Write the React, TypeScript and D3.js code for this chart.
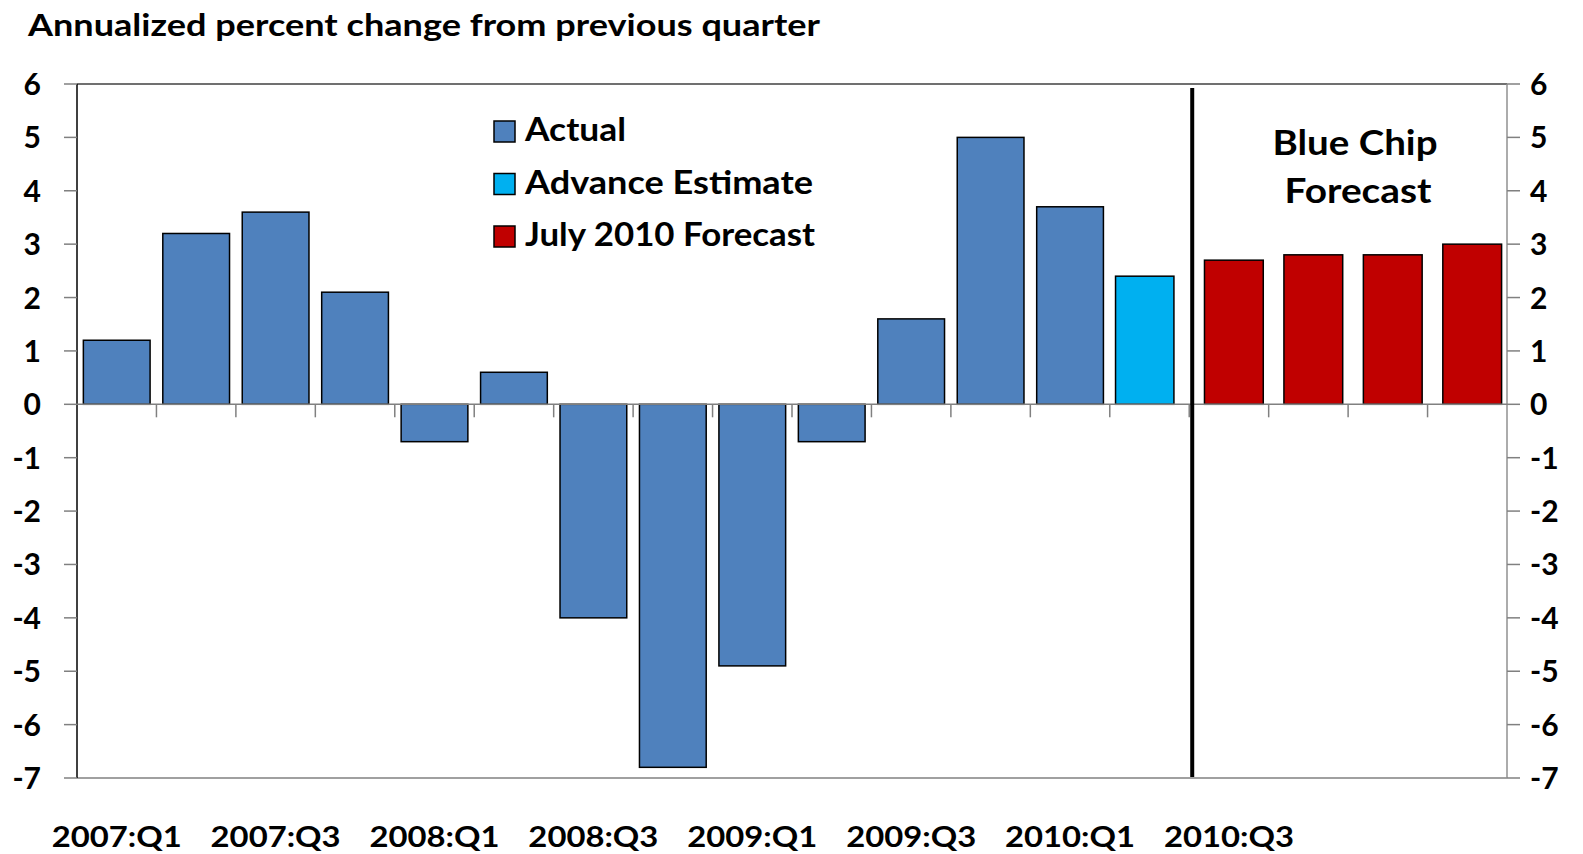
import React from "react";
import * as d3 from "d3";

const categories = [
  "2007:Q1","2007:Q2","2007:Q3","2007:Q4",
  "2008:Q1","2008:Q2","2008:Q3","2008:Q4",
  "2009:Q1","2009:Q2","2009:Q3","2009:Q4",
  "2010:Q1","2010:Q2","2010:Q3","2010:Q4",
  "2011:Q1","2011:Q2",
];
const values = [1.2, 3.2, 3.6, 2.1, -0.7, 0.6, -4.0, -6.8, -4.9, -0.7, 1.6, 5.0, 3.7, 2.4, 2.7, 2.8, 2.8, 3.0];
const kinds = ["a","a","a","a","a","a","a","a","a","a","a","a","a","e","f","f","f","f"];
const xTickLabels = ["2007:Q1","2007:Q3","2008:Q1","2008:Q3","2009:Q1","2009:Q3","2010:Q1","2010:Q3"];
const yTicks = [6,5,4,3,2,1,0,-1,-2,-3,-4,-5,-6,-7];
const legendItems = [
  { key: "a", label: "Actual", len: 101 },
  { key: "e", label: "Advance Estimate", len: 288 },
  { key: "f", label: "July 2010 Forecast", len: 290 },
];
const colors: Record<string, string> = { a: "#4F81BD", e: "#00B0F0", f: "#C00000" };
// bar width as fraction of band, and center offset as fraction of band
const barWidthFrac: Record<string, number> = { a: 0.84, e: 0.735, f: 0.74 };
const barOffsetFrac: Record<string, number> = { a: 0, e: -0.06, f: 0.062 };

const W = 1583, H = 854;
const L = 77, R = 1507, T = 84, B = 778;
const FONT = "Lato, 'Open Sans', sans-serif";

export default function App() {
  const xb = d3.scaleBand<string>().domain(categories).range([L, R]);
  const y = d3.scaleLinear().domain([-7, 6]).range([B, T]);
  const y0 = y(0);
  const step = xb.step();
  const splitX = xb("2010:Q3")! + 3;

  return (
    <svg width={W} height={H} style={{ position: "absolute", left: 0, top: 0, background: "#fff" }}>
      <text x={28} y={36} fontFamily={FONT} fontWeight={700} fontSize={30} textLength={792} lengthAdjust="spacingAndGlyphs">
        Annualized percent change from previous quarter
      </text>

      {/* plot frame */}
      <line x1={L} x2={R} y1={T} y2={T} stroke="#404040" strokeWidth={1.5} />
      <line x1={L} x2={R} y1={B} y2={B} stroke="#808080" strokeWidth={1.5} />
      <line x1={L} x2={L} y1={T} y2={B} stroke="#000" strokeWidth={1.5} />
      <line x1={R} x2={R} y1={T} y2={B} stroke="#909090" strokeWidth={1.5} />

      {/* y ticks and labels */}
      {yTicks.map((t) => (
        <g key={t}>
          <line x1={64} x2={L} y1={y(t)} y2={y(t)} stroke="#808080" strokeWidth={1.5} />
          <line x1={R} x2={1520} y1={y(t)} y2={y(t)} stroke="#808080" strokeWidth={1.5} />
          <text x={41} y={y(t) + 11} textAnchor="end" fontFamily={FONT} fontWeight={700} fontSize={30}>{t}</text>
          <text x={1530} y={y(t) + 11} textAnchor="start" fontFamily={FONT} fontWeight={700} fontSize={30}>{t}</text>
        </g>
      ))}

      {/* bars */}
      {categories.map((c, i) => {
        const v = values[i];
        const k = kinds[i];
        const w = step * barWidthFrac[k];
        const cx = xb(c)! + step / 2 + step * barOffsetFrac[k];
        return (
          <rect key={c} x={cx - w / 2} width={w} y={Math.min(y(v), y0)} height={Math.abs(y(v) - y0)}
            fill={colors[k]} stroke="#000" strokeWidth={1.5} />
        );
      })}

      {/* zero line with ticks */}
      <line x1={L} x2={R} y1={y0} y2={y0} stroke="#808080" strokeWidth={1.5} />
      {categories.slice(1).map((c) => (
        <line key={"t" + c} x1={xb(c)} x2={xb(c)} y1={y0} y2={y0 + 13} stroke="#808080" strokeWidth={1.5} />
      ))}

      {/* x labels */}
      {xTickLabels.map((c) => (
        <text key={c} x={xb(c)! + step / 2} y={847} textAnchor="middle" fontFamily={FONT} fontWeight={700} fontSize={28}
          textLength={130} lengthAdjust="spacingAndGlyphs">{c}</text>
      ))}

      {/* forecast divider */}
      <line x1={splitX} x2={splitX} y1={88} y2={777} stroke="#000" strokeWidth={4} />
      <text x={1355} y={155} textAnchor="middle" fontFamily={FONT} fontWeight={700} fontSize={35}
        textLength={165} lengthAdjust="spacingAndGlyphs">Blue Chip</text>
      <text x={1358} y={203} textAnchor="middle" fontFamily={FONT} fontWeight={700} fontSize={35}
        textLength={147} lengthAdjust="spacingAndGlyphs">Forecast</text>

      {/* legend */}
      {legendItems.map((it, i) => (
        <g key={it.key} transform={`translate(494, ${121 + i * 52.5})`}>
          <rect x={0} y={0} width={21} height={21} fill={colors[it.key]} stroke="#000" strokeWidth={1.5} />
          <text x={31} y={20} fontFamily={FONT} fontWeight={700} fontSize={32}
            textLength={it.len} lengthAdjust="spacingAndGlyphs">{it.label}</text>
        </g>
      ))}
    </svg>
  );
}
